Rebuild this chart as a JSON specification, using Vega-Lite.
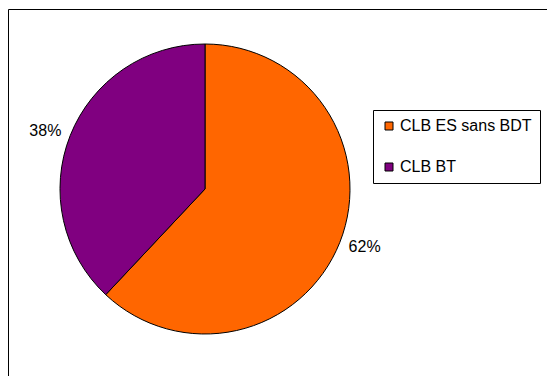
{
  "$schema": "https://vega.github.io/schema/vega-lite/v6.json",
  "autosize": "none",
  "width": 560,
  "height": 400,
  "padding": {"left": 8, "top": 9, "right": 0, "bottom": 0},
  "background": "white",
  "view": {"stroke": "black", "strokeWidth": 1, "fill": "white"},
  "config": {
    "view": {"stroke": "black", "strokeWidth": 1},
    "font": "Liberation Sans"
  },
  "data": {
    "values": [
      {"cat": "CLB ES sans BDT", "value": 62, "label": "62%", "order": 1},
      {"cat": "CLB BT", "value": 38, "label": "38%", "order": 2}
    ]
  },
  "encoding": {
    "theta": {"field": "value", "type": "quantitative", "stack": true},
    "order": {"field": "order", "type": "quantitative"}
  },
  "layer": [
    {
      "mark": {"type": "arc", "x": 197, "y": 180, "outerRadius": 145, "stroke": "black", "strokeWidth": 1},
      "encoding": {
        "color": {
          "field": "cat",
          "type": "nominal",
          "scale": {"domain": ["CLB ES sans BDT", "CLB BT"], "range": ["#FF6600", "#800080"]},
          "legend": {
            "title": null,
            "orient": "none",
            "legendX": 365,
            "legendY": 101,
            "strokeColor": "black",
            "fillColor": "white",
            "padding": 8,
            "symbolType": "square",
            "symbolSize": 64,
            "symbolStrokeColor": "black",
            "symbolStrokeWidth": 1,
            "labelFontSize": 16,
            "labelFont": "Liberation Sans",
            "labelColor": "black",
            "labelOffset": 3,
            "rowPadding": 25,
            "labelLimit": 300
          }
        }
      }
    },
    {
      "mark": {"type": "text", "x": 197, "y": 180, "radius": 170, "thetaOffset": -0.026, "fontSize": 16, "font": "Liberation Sans", "color": "black"},
      "encoding": {
        "text": {"field": "label"}
      }
    }
  ]
}
